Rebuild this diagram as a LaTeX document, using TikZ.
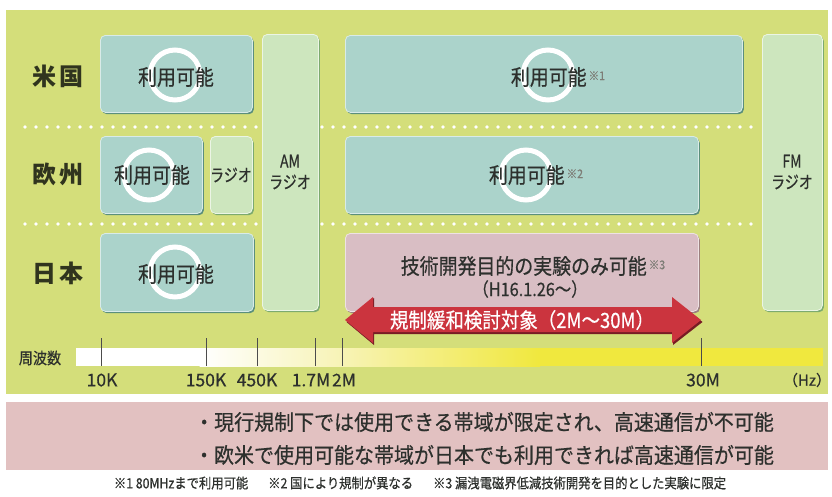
\documentclass[tikz,border=0pt]{standalone}
\usepackage{fontspec}
\setmainfont{Noto Sans CJK JP}
\newfontfamily\jp[FakeStretch=0.88,FakeBold=0.5]{Noto Sans CJK JP}
\newfontfamily\jpm[FakeStretch=0.93,FakeBold=0.5]{Noto Sans CJK JP}
\newfontfamily\jpc[FakeStretch=0.8,FakeBold=0.5]{Noto Sans CJK JP}
\newfontfamily\jpn[FakeBold=0.6]{Noto Sans CJK JP}
\usetikzlibrary{shadows}
\definecolor{bggreen}{RGB}{212,222,122}
\definecolor{tealbox}{RGB}{171,211,203}
\definecolor{tealshadow}{RGB}{78,135,125}
\definecolor{radiobox}{RGB}{205,230,190}
\definecolor{radioshadow}{RGB}{115,165,110}
\definecolor{pinkbox}{RGB}{217,190,196}
\definecolor{pinkshadow}{RGB}{150,118,128}
\definecolor{redarrow}{RGB}{203,52,62}
\definecolor{redshadow}{RGB}{120,28,36}
\definecolor{pinkband}{RGB}{226,193,193}
\definecolor{txt}{RGB}{45,48,45}
\definecolor{lbl}{RGB}{48,52,30}
\definecolor{note}{RGB}{125,125,118}
\definecolor{ylw}{RGB}{240,232,62}
\definecolor{paleylw}{RGB}{247,243,180}
\newcommand{\kome}[1]{\raisebox{5pt}{\fontsize{12}{12}\selectfont\color{note}\,#1}}
\tikzset{
  boxbase/.style={rectangle, rounded corners=5pt, anchor=north west, inner sep=0pt, line width=0.8pt},
  tbox/.style={boxbase, fill=tealbox, draw=white!55!tealbox,
    drop shadow={shadow xshift=1.5pt, shadow yshift=-1.8pt, fill=tealshadow, opacity=0.9}},
  rbox/.style={boxbase, fill=radiobox, draw=white!60!radiobox,
    drop shadow={shadow xshift=1.5pt, shadow yshift=-1.8pt, fill=radioshadow, opacity=0.9}},
  pbox/.style={boxbase, fill=pinkbox, draw=white!55!pinkbox,
    drop shadow={shadow xshift=1.5pt, shadow yshift=-1.8pt, fill=pinkshadow, opacity=0.9}},
  ring/.style={draw=white, line width=5pt},
  boxtext/.style={text=txt, font=\jp\fontsize{21.5}{21.5}\selectfont, inner sep=0pt},
  radiotext/.style={text=txt, font=\jpc\fontsize{17.5}{21}\selectfont, inner sep=0pt, align=center},
  country/.style={text=lbl, font=\bfseries\fontsize{24}{24}\selectfont, inner sep=0pt},
  dotline/.style={draw=white, line width=3.6pt, line cap=round, dash pattern=on 0pt off 11pt},
  tick/.style={draw=black!70, line width=0.8pt},
  ticklabel/.style={text=txt, font=\jpn\fontsize{17.5}{17.5}\selectfont, inner sep=0pt},
  bottomtext/.style={text=txt, font=\jpm\fontsize{21.5}{21.5}\selectfont, inner sep=0pt},
}
\begin{document}
\begin{tikzpicture}[x=1pt, y=-1pt]
\useasboundingbox (0,0) rectangle (832,496);
\fill[white] (0,0) rectangle (832,496);
% green panel
\fill[bggreen] (6,10) rectangle (828,394);
% dotted separators
\coordinate (d1a) at (25,127); \coordinate (d1b) at (758,127);
\coordinate (d2a) at (25,224); \coordinate (d2b) at (758,224);
\draw[dotline] (d1a) -- (d1b);
\draw[dotline] (d2a) -- (d2b);
% country labels
\node[country] (lus) at (58,76) {米\,国};
\node[country] (leu) at (58,174) {欧\,州};
\node[country] (ljp) at (58,273) {日\,本};
% boxes
\node[tbox, minimum width=152pt, minimum height=77pt] (us1) at (100,35) {};
\node[rbox, minimum width=56pt, minimum height=276pt] (am) at (262,34) {};
\node[tbox, minimum width=397pt, minimum height=77pt] (us2) at (345,35) {};
\node[rbox, minimum width=60pt, minimum height=276pt] (fm) at (762,34) {};
\node[tbox, minimum width=102pt, minimum height=77pt] (eu1) at (100,136) {};
\node[rbox, minimum width=42pt, minimum height=77pt] (eur) at (210,136) {};
\node[tbox, minimum width=353pt, minimum height=77pt] (eu2) at (345,136) {};
\node[tbox, minimum width=153pt, minimum height=78pt] (jp1) at (100,233) {};
\node[pbox, minimum width=353pt, minimum height=78pt] (jp2) at (345,233) {};
% rings
\draw[ring] (175,75) circle (25);
\draw[ring] (149,175) circle (25);
\draw[ring] (548,75) circle (25);
\draw[ring] (526,175) circle (25);
\draw[ring] (175,272) circle (25);
% box texts
\node[boxtext] (tus1) at (176,77) {利用可能};
\node[boxtext] (teu1) at (152,175) {利用可能};
\node[boxtext] (tjp1) at (176,274) {利用可能};
\node[boxtext] (tus2) at (558,77) {利用可能\kome{※1}};
\node[boxtext] (teu2) at (536,175) {利用可能\kome{※2}};
\node[radiotext] (tam) at (290,172) {AM\\ラジオ};
\node[radiotext] (tfm) at (792,172) {FM\\ラジオ};
\node[radiotext] (teur) at (231,175) {ラジオ};
\node[boxtext] (tjp2) at (533,266) {技術開発目的の実験のみ可能\kome{※3}};
\node[boxtext, font=\jp\fontsize{18.5}{18.5}\selectfont] (tjp2b) at (530,289) {（H16.1.26〜）};
% red double arrow
\coordinate (al) at (345,320); \coordinate (ar) at (701,320);
\fill[redshadow] ([shift={(1.5,2)}]al) -- (374,298) -- (374,308) -- (672,308) -- (672,298) -- ([shift={(1.5,2)}]ar) -- (673,345) -- (673,334) -- (374,334) -- (374,345) -- cycle;
\fill[redarrow] (al) -- (373,297) -- (373,307) -- (672,307) -- (672,297) -- (ar) -- (672,343) -- (672,332) -- (373,332) -- (373,343) -- cycle;
\node[text=white, font=\jp\fontsize{21}{21}\selectfont, inner sep=0pt] (tarrow) at (522,320) {規制緩和検討対象（2M〜30M）};
% frequency bar
\fill[white] (76,348) rectangle (200,366);
\shade[left color=white, right color=paleylw] (199.5,348) rectangle (345,366);
\shade[left color=paleylw, right color=ylw] (344.5,348) rectangle (540,366);
\fill[ylw] (539.5,348) rectangle (823,366);
\node[text=txt, font=\jp\fontsize{16}{16}\selectfont, inner sep=0pt] (lfreq) at (40,358) {周波数};
\foreach \n/\x in {t10k/101, t150k/206, t450k/257, t17m/315, t2m/342, t30m/701}{
  \coordinate (\n a) at (\x,338); \coordinate (\n b) at (\x,366);
  \draw[tick] (\n a) -- (\n b);
}
\node[ticklabel] (l10k) at (102,380) {10K};
\node[ticklabel] (l150k) at (206,380) {150K};
\node[ticklabel] (l450k) at (257,380) {450K};
\node[ticklabel] (l17m) at (311,380) {1.7M};
\node[ticklabel] (l2m) at (344,380) {2M};
\node[ticklabel] (l30m) at (703,380) {30M};
\node[ticklabel, font=\jpn\fontsize{15}{15}\selectfont] (lhz) at (807,380) {（Hz）};
% bottom band
\fill[pinkband] (6,402) rectangle (828,470);
\node[bottomtext] (b1) at (484,422) {・現行規制下では使用できる帯域が限定され、高速通信が不可能};
\node[bottomtext] (b2) at (484,455) {・欧米で使用可能な帯域が日本でも利用できれば高速通信が可能};
\node[text=txt, font=\jp\fontsize{14}{14}\selectfont, inner sep=0pt] (fn) at (420,483) {※1 80MHzまで利用可能\hspace{20pt}※2 国により規制が異なる\hspace{20pt}※3 漏洩電磁界低減技術開発を目的とした実験に限定};
\end{tikzpicture}
\end{document}
